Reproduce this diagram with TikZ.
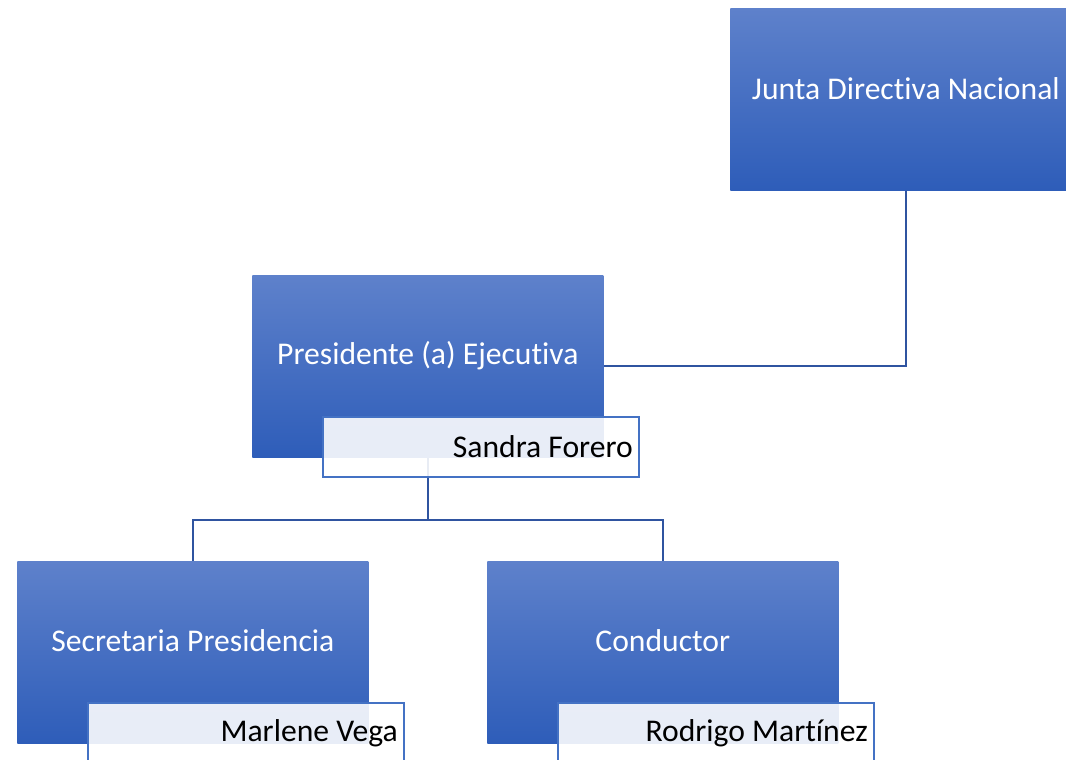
\documentclass[tikz,border=0pt]{standalone}
\usepackage{fontspec}
\setmainfont{Carlito}[Ligatures=NoCommon]
\usepackage{tikz}
\usetikzlibrary{calc}
\definecolor{boxtop}{RGB}{94,129,203}
\definecolor{boxbottom}{RGB}{46,93,185}
\definecolor{linkblue}{RGB}{47,84,160}
\definecolor{nameborder}{RGB}{68,114,196}
\tikzset{unit box/.style={rectangle,top color=boxtop,bottom color=boxbottom,minimum width=7.02cm,minimum height=3.64cm,inner sep=0,anchor=north west}}
\tikzset{unit text/.style={text=white,font=\fontsize{18}{22}\selectfont,inner sep=0}}
\tikzset{name box/.style={rectangle,draw=nameborder,line width=1pt,fill=white,fill opacity=0.89,text opacity=1,minimum height=1.2cm,text width=6.08cm,align=flush right,inner xsep=0.12cm,inner ysep=0,anchor=north west,font=\fontsize{18}{22}\selectfont}}
\tikzset{link/.style={draw=linkblue,line width=1.1pt}}

\begin{document}
\begin{tikzpicture}[x=0.02cm,y=-0.02cm]

            \clip (0,0) rectangle (1066,760);
            \useasboundingbox (0,0) rectangle (1066,760);

            \node[unit box] (junta) at (730,8) {};
            \node[unit box] (presidente) at (252,275) {};
            \node[unit box] (secretaria) at (17,561) {};
            \node[unit box] (conductor) at (487,561) {};

            \node[unit text] (juntaText) at ($(junta.center)+(0,-11)$) {Junta Directiva Nacional};
            \node[unit text] (presidenteText) at ($(presidente.center)+(0,-11)$) {Presidente (a) Ejecutiva};
            \node[unit text] (secretariaText) at ($(secretaria.center)+(0,-12)$) {Secretaria Presidencia};
            \node[unit text] (conductorText) at ($(conductor.center)+(0,-12)$) {Conductor};

            \coordinate (fork) at ($(presidente.south)+(0,62)$);
            \draw[link] (junta.south) |- (presidente.east);
            \draw[link] (presidente.south) -- (fork) -| (secretaria.north);
            \draw[link] (fork) -| (conductor.north);

            \node[name box] (sandra) at (322,416) {Sandra Forero};
            \node[name box] (marlene) at (87,702) {Marlene Vega};
            \node[name box] (rodrigo) at (557,702) {Rodrigo Martínez};

          \end{tikzpicture}
\end{document}
